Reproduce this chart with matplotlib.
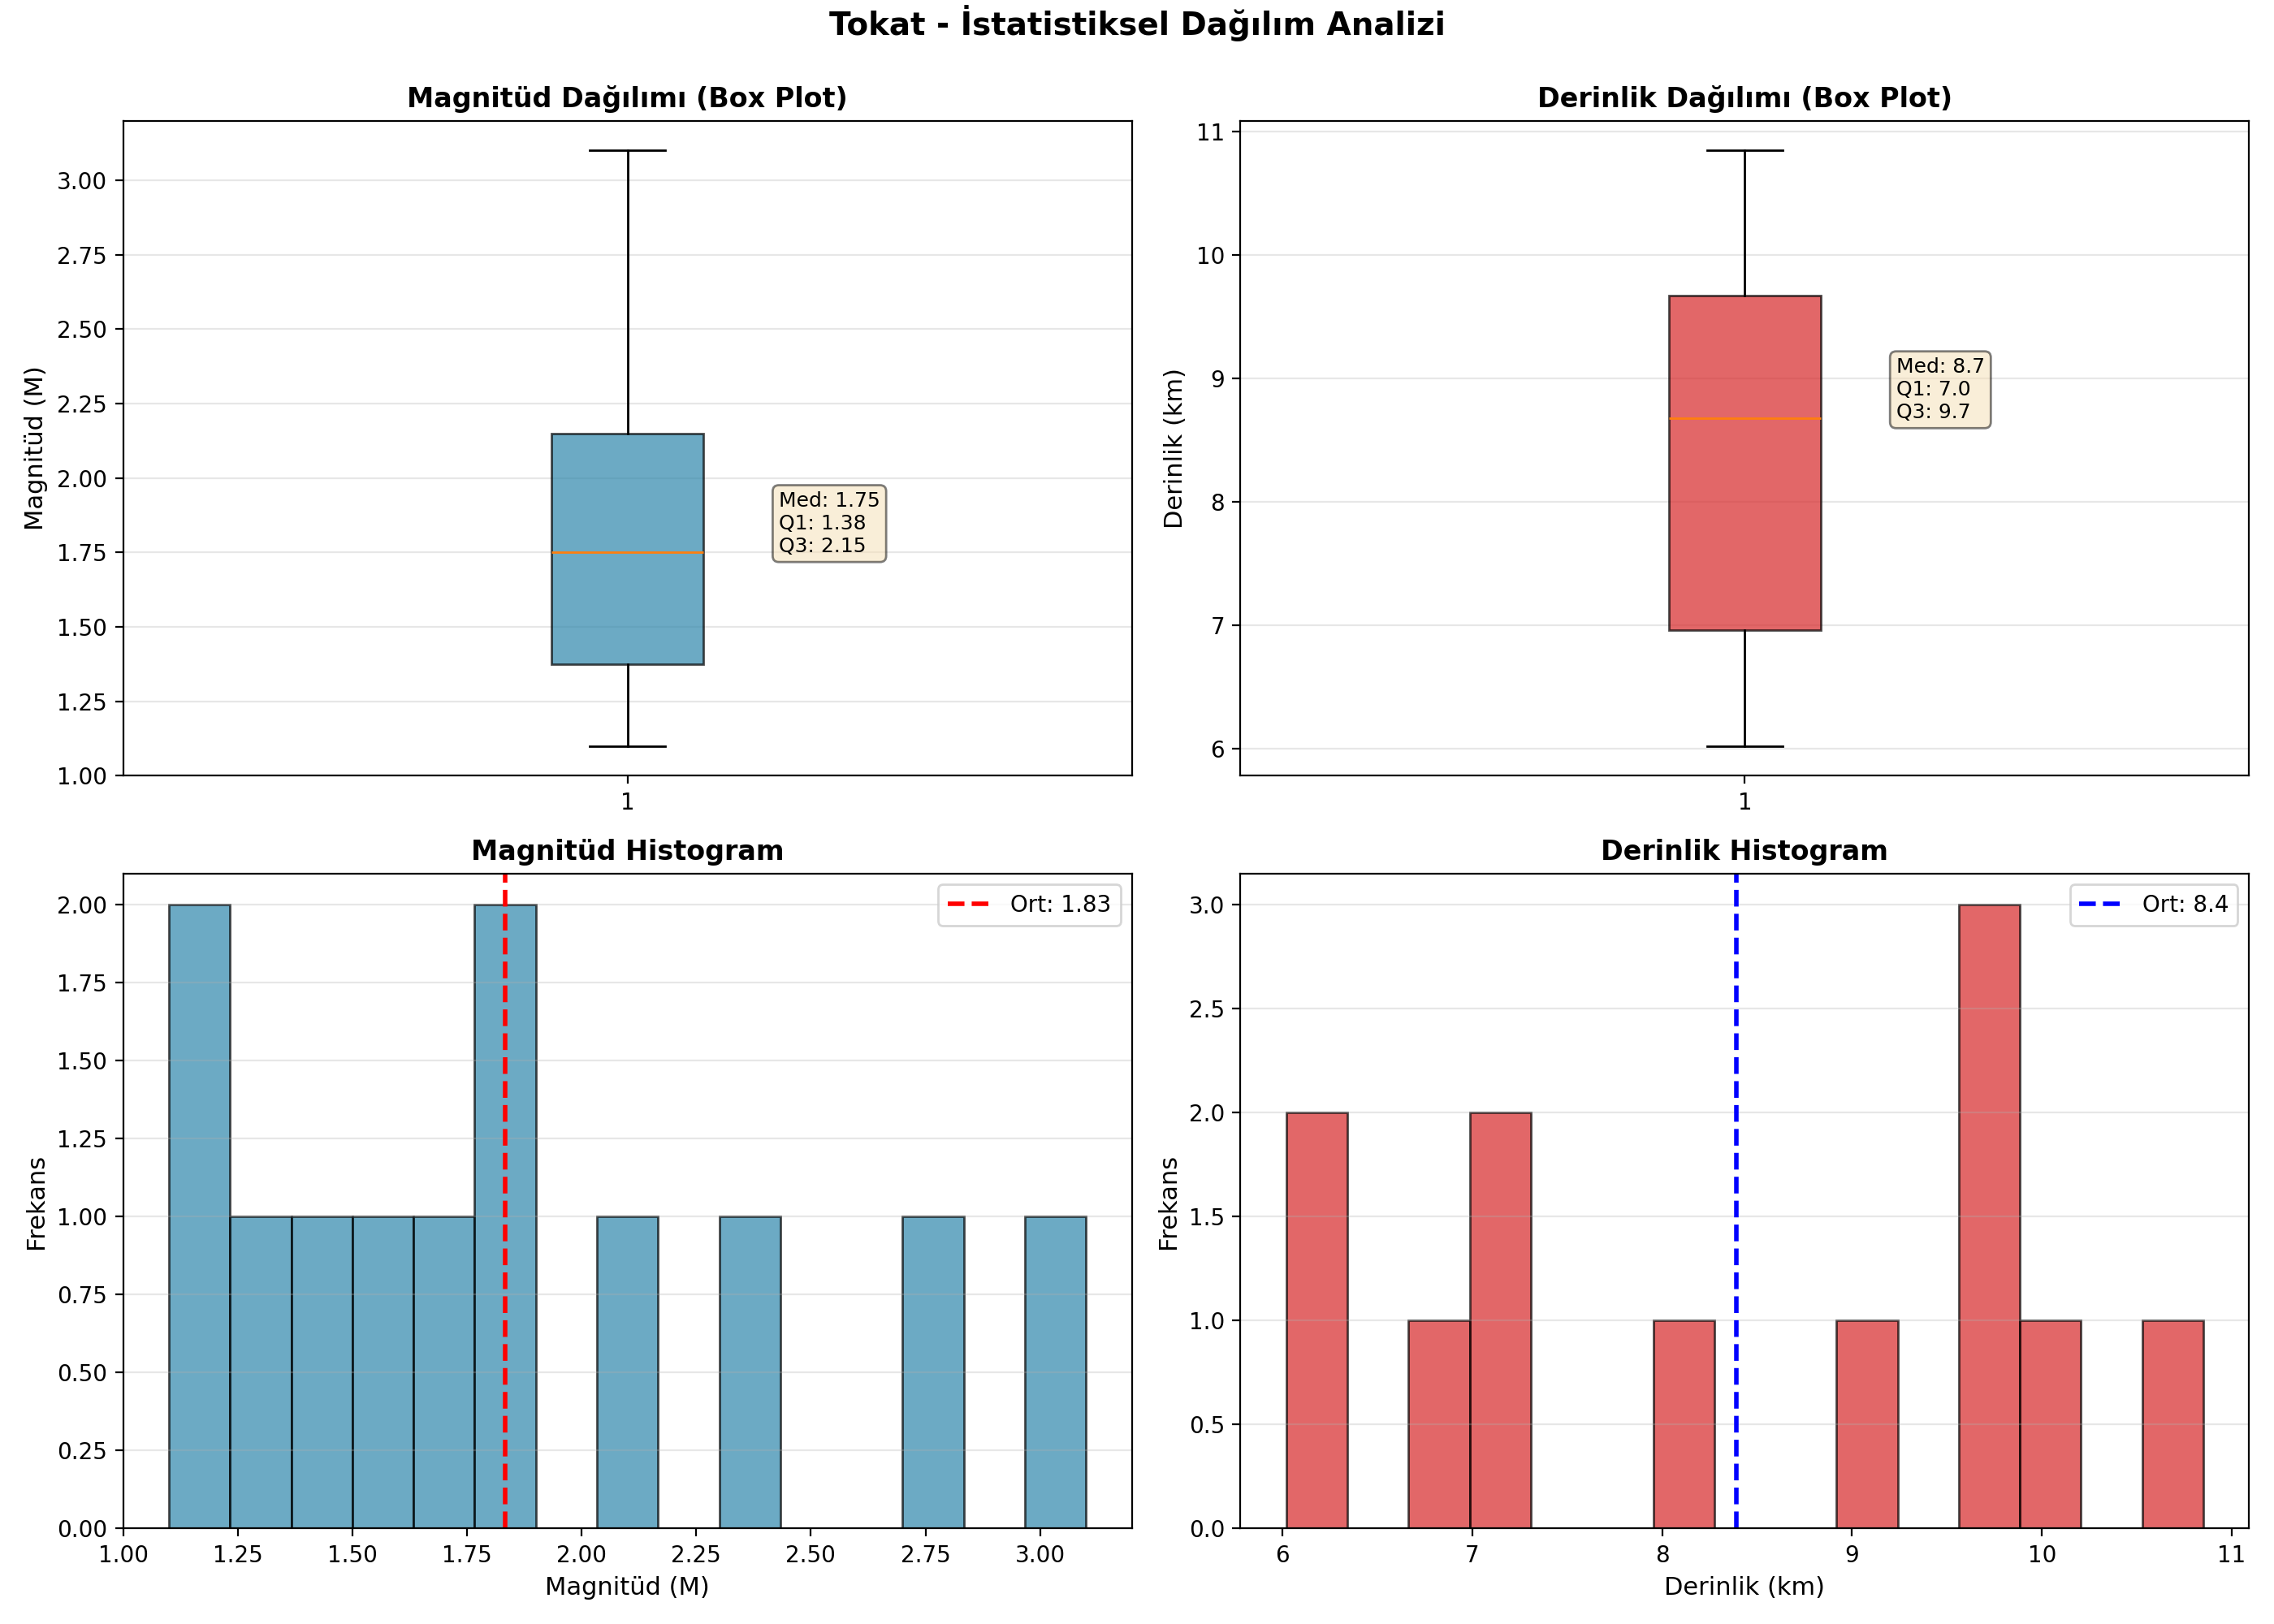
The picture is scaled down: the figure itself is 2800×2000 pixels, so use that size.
import matplotlib
matplotlib.use("Agg")
import matplotlib.pyplot as plt
import numpy as np

plt.rcParams['font.family'] = ['DejaVu Sans']

# Box plot statistics
mag_box = dict(whislo=1.10, q1=1.376, med=1.752, q3=2.15, whishi=3.10)
dep_box = dict(whislo=6.02, q1=6.96, med=8.68, q3=9.67, whishi=10.85)

# Histogram data
mag_range = (1.10, 3.10)
mag_counts = [2, 1, 1, 1, 1, 2, 0, 1, 0, 1, 0, 0, 1, 0, 1]
mag_mean = 1.833

dep_range = (6.02, 10.85)
dep_counts = [2, 0, 1, 2, 0, 0, 1, 0, 0, 1, 0, 3, 1, 0, 1]
dep_mean = 8.39

blue = '#2E86AB'
red = '#d62728'

fig, axes = plt.subplots(2, 2, figsize=(14, 10), dpi=200)
st_title = fig.suptitle('Tokat - İstatistiksel Dağılım Analizi', fontsize=14, fontweight='bold')

def boxpanel(ax, st, color, title, ylabel, fmt):
    s = dict(st)
    s['fliers'] = []
    bp = ax.bxp([s], positions=[1], widths=0.15, patch_artist=True)
    for b in bp['boxes']:
        b.set_facecolor(color)
        b.set_alpha(0.7)
    ax.set_xlim(0.5, 1.5)
    ax.set_title(title, fontsize=12, fontweight='bold')
    ax.set_ylabel(ylabel, fontsize=11)
    ax.grid(True, axis='y', alpha=0.3)
    txt = f"Med: {st['med']:{fmt}}\nQ1: {st['q1']:{fmt}}\nQ3: {st['q3']:{fmt}}"
    ax.text(1.15, st['med'], txt, fontsize=9,
            bbox=dict(boxstyle='round', facecolor='wheat', alpha=0.5))

boxpanel(axes[0, 0], mag_box, blue, 'Magnitüd Dağılımı (Box Plot)', 'Magnitüd (M)', '.2f')
boxpanel(axes[0, 1], dep_box, red, 'Derinlik Dağılımı (Box Plot)', 'Derinlik (km)', '.1f')

def histpanel(ax, rng, counts, color, mean, mcolor, title, xlabel, fmt):
    edges = np.linspace(rng[0], rng[1], len(counts) + 1)
    centers = (edges[:-1] + edges[1:]) / 2
    ax.hist(centers, bins=edges, weights=counts, color=color, alpha=0.7, edgecolor='black')
    ax.axvline(mean, color=mcolor, linestyle='--', linewidth=2, label=f'Ort: {mean:{fmt}}')
    ax.set_title(title, fontsize=12, fontweight='bold')
    ax.set_xlabel(xlabel, fontsize=11)
    ax.set_ylabel('Frekans', fontsize=11)
    ax.legend(fontsize=10)
    ax.grid(True, axis='y', alpha=0.3)

histpanel(axes[1, 0], mag_range, mag_counts, blue, mag_mean, 'red', 'Magnitüd Histogram', 'Magnitüd (M)', '.2f')
histpanel(axes[1, 1], dep_range, dep_counts, red, dep_mean, 'blue', 'Derinlik Histogram', 'Derinlik (km)', '.1f')

plt.tight_layout()
st_title.set_y(0.997)
plt.savefig('out.png', dpi=200)
